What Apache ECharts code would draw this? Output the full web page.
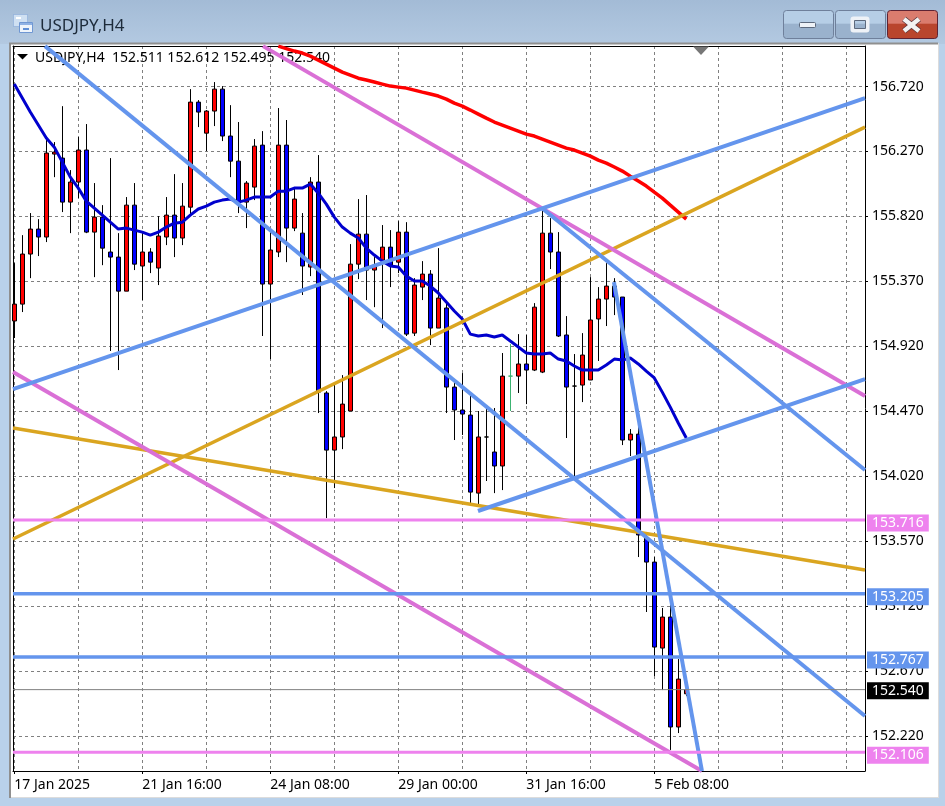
<!DOCTYPE html>
<html>
<head>
<meta charset="utf-8">
<title>USDJPY,H4</title>
<script src="https://cdn.jsdelivr.net/npm/echarts@6/dist/echarts.min.js"></script>
<style>html,body{margin:0;padding:0;background:#b9d1ea}#c{width:945px;height:806px}</style>
</head>
<body>
<div id="c"></div>
<script>
// ---- tick labels ----
const priceTicks = [156.72,156.27,155.82,155.37,154.92,154.47,154.02,153.57,153.12,152.67,152.22];
const timeLabels = ['17 Jan 2025','21 Jan 16:00','24 Jan 08:00','29 Jan 00:00','31 Jan 16:00','5 Feb 08:00'];
const timeLabelBars = [0,16,32,48,64,80];
const gridBars = [0,8,16,24,32,40,48,56,64,72,80,88,96,104];

// ---- H4 candles ----
const opens = [155.095,155.212,155.559,155.732,155.677,156.252,156.224,155.919,156.058,156.280,155.711,155.815,155.573,155.538,155.302,155.898,155.476,155.573,155.462,155.677,155.829,155.670,155.884,156.612,156.397,156.550,156.702,156.377,156.203,155.919,156.023,156.314,155.351,155.573,156.314,155.739,155.704,155.469,156.058,154.596,154.200,154.291,154.471,155.489,155.697,155.448,155.517,155.607,155.503,155.711,155.011,155.330,155.420,155.046,155.185,154.637,154.478,154.443,153.902,154.291,154.187,154.090,154.713,154.713,154.797,154.755,154.741,155.704,155.573,154.998,154.644,154.651,154.686,155.109,155.247,155.337,155.261,154.270,154.311,153.591,153.424,152.828,153.043,152.281,152.511];
const closes = [155.212,155.559,155.732,155.677,156.259,156.266,155.919,156.058,156.280,155.711,155.815,155.600,155.538,155.302,155.898,155.489,155.573,155.503,155.684,155.829,155.670,155.891,156.612,156.543,156.550,156.702,156.377,156.203,155.919,156.051,156.307,155.351,155.587,156.314,155.739,155.940,155.476,156.058,154.602,154.200,154.291,154.519,155.489,155.697,155.448,155.482,155.607,155.482,155.711,155.004,155.344,155.420,155.046,155.254,154.637,154.478,154.450,153.909,154.291,154.291,154.090,154.713,154.713,154.797,154.755,155.191,155.704,155.573,154.991,154.637,154.644,154.859,155.102,155.247,155.337,155.261,154.270,154.311,153.612,153.424,152.835,153.043,152.281,152.613,152.540];
const lows = [154.977,155.157,155.392,155.545,155.642,156.092,155.850,155.704,155.947,155.704,155.399,155.482,154.887,154.755,155.302,155.448,155.240,155.427,155.344,155.621,155.538,155.621,155.829,156.439,156.273,156.446,156.342,156.092,155.843,155.739,155.933,154.991,154.831,155.538,155.503,155.718,155.275,155.406,154.457,153.729,153.937,154.207,154.471,155.385,155.240,155.191,155.046,155.330,155.427,154.991,154.991,155.240,154.928,155.046,154.457,154.270,154.305,153.833,153.819,153.986,153.902,153.923,154.471,154.596,154.519,154.748,154.734,155.455,154.984,154.284,154.013,154.533,154.686,154.818,155.060,155.136,154.235,154.159,153.459,153.078,152.634,152.537,152.122,152.239,152.495];
const highs = [155.496,155.690,155.843,155.801,156.349,156.335,156.584,156.141,156.370,156.460,156.051,155.898,156.224,155.704,155.954,156.051,155.704,155.600,155.822,155.954,156.113,156.051,156.702,156.626,156.557,156.751,156.723,156.591,156.474,156.065,156.356,156.411,155.711,156.571,156.488,156.023,155.843,156.092,156.245,154.609,154.672,154.720,155.628,155.940,155.968,155.538,155.760,155.725,155.787,155.780,155.392,155.510,155.448,155.600,155.219,154.665,154.734,154.575,154.471,154.485,154.492,154.873,154.935,155.004,154.998,155.219,155.871,155.808,155.711,155.129,154.866,155.011,155.399,155.330,155.496,155.392,155.261,154.346,154.381,153.612,153.459,153.106,153.127,152.752,152.612];
const palerBar = 62;

// ---- moving averages ----
const fastMA = [156.737,156.640,156.543,156.453,156.363,156.300,156.196,156.092,156.016,155.926,155.878,155.829,155.780,155.732,155.739,155.725,155.711,155.690,155.711,155.746,155.773,155.780,155.829,155.871,155.891,155.919,155.933,155.940,155.919,155.933,155.954,155.954,155.954,155.995,155.995,156.016,156.016,156.044,155.981,155.905,155.815,155.746,155.704,155.670,155.600,155.552,155.510,155.476,155.469,155.406,155.372,155.372,155.337,155.289,155.226,155.164,155.109,155.004,154.991,154.998,154.984,154.998,154.956,154.915,154.873,154.866,154.866,154.873,154.831,154.818,154.783,154.755,154.755,154.755,154.790,154.831,154.824,154.838,154.797,154.748,154.700,154.602,154.498,154.388,154.284];
const slowMAStartBar = 33;
const slowMA = [157.000,156.983,156.966,156.952,156.931,156.903,156.875,156.848,156.820,156.799,156.778,156.765,156.751,156.737,156.723,156.716,156.709,156.695,156.681,156.668,156.654,156.633,156.605,156.584,156.557,156.529,156.501,156.474,156.453,156.432,156.411,156.390,156.377,156.356,156.335,156.314,156.293,156.280,156.259,156.238,156.210,156.189,156.162,156.134,156.099,156.065,156.030,155.988,155.947,155.898,155.850,155.801];

// ---- drawn trend lines: [bar, price, bar, price] ----
const blueTrends = [[3.84,157.000,106.34,152.357],[-0.16,154.623,106.34,156.640],[66.09,155.871,106.34,154.062],[57.96,153.778,106.34,154.692],[74.96,155.365,85.96,151.976]];
const orchidTrends = [[31.09,157.000,106.34,154.575],[-0.16,154.741,85.96,151.976]];
const goldTrends = [[-0.16,153.584,106.34,156.439],[-0.16,154.353,106.34,153.369]];

// ---- horizontal levels ----
const blueLevels = [153.205,152.767];
const violetLevels = [153.716,152.106];
const lastPrice = 152.540;
const quoteLine = 'USDJPY,H4  152.511 152.612 152.495 152.540';
const windowTitle = 'USDJPY,H4';

const barMin = -0.1625, barMax = 106.34, priceMin = 151.976, priceMax = 157.001;
const FONT = '"Noto Sans"';

const candleData = opens.map((o,i)=>{
  const v=[i,o,closes[i],lows[i],highs[i]];
  return i===palerBar ? {value:v,itemStyle:{borderColor:'#3cb371',borderColor0:'#3cb371',borderColorDoji:'#3cb371'}} : v;
});
function segSeries(seg,color,width){
  return {type:'line',xAxisIndex:0,showSymbol:false,symbol:'none',silent:true,animation:false,
    lineStyle:{color:color,width:width,cap:'butt'},
    data:[[seg[0],seg[1]],[seg[2],seg[3]]]};
}
function levelSeries(p,color,width,dy){
  return {type:'line',xAxisIndex:0,symbol:'none',silent:true,animation:false,z:4,
    lineStyle:{color:color,width:width},
    data:[[barMin,p],[barMax,p]],
    endLabel:{show:true,distance:2,offset:[0,dy],formatter:()=>p.toFixed(3),color:'#fff',backgroundColor:color,
      fontFamily:FONT,fontSize:14,lineHeight:17,height:17,padding:[0,5,0,5]}};
}
const series = [
  {type:'candlestick',xAxisIndex:0,barWidth:5,silent:true,animation:false,
    itemStyle:{color:'#ff0000',color0:'#0000ff',borderColor:'#000',borderColor0:'#000',borderColorDoji:'#000',borderWidth:1},
    data:candleData},
  {type:'line',xAxisIndex:0,symbol:'none',silent:true,animation:false,lineStyle:{color:'#0000cd',width:3},
    data:fastMA.map((v,i)=>[i,v])},
  {type:'line',xAxisIndex:0,symbol:'none',silent:true,animation:false,lineStyle:{color:'#ff0000',width:3.5},
    data:slowMA.map((v,i)=>[i+slowMAStartBar,v])},
  ...goldTrends.map(s=>segSeries(s,'#daa520',3.5)),
  ...orchidTrends.map(s=>segSeries(s,'#da70d6',4)),
  ...blueTrends.map(s=>segSeries(s,'#6495ed',4)),
  ...violetLevels.map(p=>levelSeries(p,'#ee82ee',3,3)),
  ...blueLevels.map(p=>levelSeries(p,'#6495ed',3.5,3)),
  Object.assign(levelSeries(lastPrice,'#000',1,1),{lineStyle:{color:'#808080',width:1}})
];

const btn = (x,w,top,bot,border)=>({type:'rect',z:-5,shape:{x:x+.5,y:10.5,width:w,height:28,r:3},
  style:{fill:{type:'linear',x:0,y:0,x2:0,y2:1,colorStops:[{offset:0,color:top},{offset:.45,color:top},{offset:.5,color:bot},{offset:1,color:bot}]},stroke:border,lineWidth:1}});
const graphic = [
  {type:'rect',z:-10,shape:{x:0,y:0,width:945,height:806},style:{fill:'#b9d1ea'}},
  {type:'rect',z:-9,shape:{x:0,y:0,width:945,height:44},
    style:{fill:{type:'linear',x:0,y:0,x2:0,y2:1,colorStops:[{offset:0,color:'#a3bbd6'},{offset:1,color:'#b3c9e1'}]}}},
  {type:'rect',z:-8,shape:{x:9.5,y:43.5,width:929,height:754},style:{fill:'#fff',stroke:'#dcdcdc',lineWidth:1}},
  {type:'polyline',z:-7,shape:{points:[[10,798],[10,43.5],[938,43.5]]},style:{fill:null,stroke:'#8f8f8f',lineWidth:2}},
  btn(783,50,'#b6cee6','#9ab2cd','#6f809b'),
  btn(835,50,'#b6cee6','#9ab2cd','#6f809b'),
  btn(887,50,'#da7c6e','#b9452d','#5e2333'),
  {type:'rect',z:-4,shape:{x:799.5,y:22.5,width:16,height:5,r:1},style:{fill:'#eef2f7',stroke:'#5d6a7e',lineWidth:1}},
  {type:'rect',z:-4,shape:{x:852.5,y:18.5,width:15,height:12,r:1},style:{fill:'none',stroke:'#eef2f7',lineWidth:4}},
  {type:'rect',z:-3,shape:{x:854.5,y:20.5,width:11,height:8},style:{fill:'none',stroke:'#5d6a7e',lineWidth:1}},
  {type:'line',z:-4,shape:{x1:904,y1:19,x2:919,y2:31},style:{stroke:'#59333a',lineWidth:6}},
  {type:'line',z:-4,shape:{x1:919,y1:19,x2:904,y2:31},style:{stroke:'#59333a',lineWidth:6}},
  {type:'line',z:-3,shape:{x1:904,y1:19,x2:919,y2:31},style:{stroke:'#f2f2f2',lineWidth:4.5}},
  {type:'line',z:-3,shape:{x1:919,y1:19,x2:904,y2:31},style:{stroke:'#f2f2f2',lineWidth:4.5}},
  // window icon
  {type:'rect',z:-4,shape:{x:13.5,y:14.5,width:14,height:12},style:{fill:'#cfe0f2',stroke:'#7fa3d6',lineWidth:1,lineDash:[1,1]}},
  {type:'rect',z:-4,shape:{x:19.5,y:22.5,width:13,height:10},style:{fill:'#eef4fb',stroke:'#6f97d3',lineWidth:1}},
  {type:'rect',z:-3,shape:{x:20,y:23,width:12,height:2},style:{fill:'#8fb2e4'}},
  {type:'rect',z:-3,shape:{x:16,y:17,width:5,height:2},style:{fill:'#ffffff'}},
  {type:'rect',z:-3,shape:{x:23,y:28,width:6,height:2},style:{fill:'#5f8fd6'}},
  {type:'text',z:-3,style:{text:windowTitle,x:40,y:26,verticalAlign:'middle',font:'17px '+FONT,fill:'#1d2b3a'}},
  // overlay on the plot
  {type:'polygon',z:1,shape:{points:[[17,54],[28,54],[22.5,59.5]]},style:{fill:'#000'}},
  {type:'text',z:1,style:{text:quoteLine,x:35,y:58,verticalAlign:'middle',font:'14px '+FONT,fill:'#000'}},
  {type:'polygon',z:1,shape:{points:[[693,46.5],[709,46.5],[701,55]]},style:{fill:'#777'}}
];

const chart = echarts.init(document.getElementById('c'));
chart.setOption({
  animation:false,
  backgroundColor:'transparent',
  graphic:{elements:graphic},
  grid:{left:13,top:46,width:852,height:725,containLabel:false,show:false},
  xAxis:[
    {type:'value',min:barMin,max:barMax,position:'bottom',
      axisLine:{show:true,onZero:false,lineStyle:{color:'#000',width:1}},
      axisTick:{show:true,length:3,inside:false,lineStyle:{color:'#000'},customValues:timeLabelBars},
      axisLabel:{show:true,customValues:timeLabelBars,align:'left',margin:7,color:'#000',fontFamily:FONT,fontSize:14,
        formatter:v=>timeLabels[timeLabelBars.indexOf(Math.round(v))]||''},
      splitLine:{show:false}},
    {type:'value',min:barMin,max:barMax,position:'top',
      axisLine:{show:true,onZero:false,lineStyle:{color:'#000',width:1}},
      axisTick:{show:false,customValues:gridBars},
      axisLabel:{show:false},
      splitLine:{show:true,lineStyle:{color:'#808080',width:1,type:[3,3]}}}
  ],
  yAxis:[
    {type:'value',min:priceMin,max:priceMax,position:'right',
      axisLine:{show:true,onZero:false,lineStyle:{color:'#000',width:1}},
      axisTick:{show:true,length:3,lineStyle:{color:'#000'},customValues:priceTicks},
      axisLabel:{show:true,customValues:priceTicks,margin:7,padding:[2,0,0,0],color:'#000',fontFamily:FONT,fontSize:14,formatter:v=>v.toFixed(3)},
      splitLine:{show:true,lineStyle:{color:'#808080',width:1,type:[3,3]}}},
    {type:'value',min:priceMin,max:priceMax,position:'left',
      axisLine:{show:true,onZero:false,lineStyle:{color:'#000',width:1}},
      axisTick:{show:false},axisLabel:{show:false},splitLine:{show:false}}
  ],
  series:series
});
</script>
</body>
</html>
